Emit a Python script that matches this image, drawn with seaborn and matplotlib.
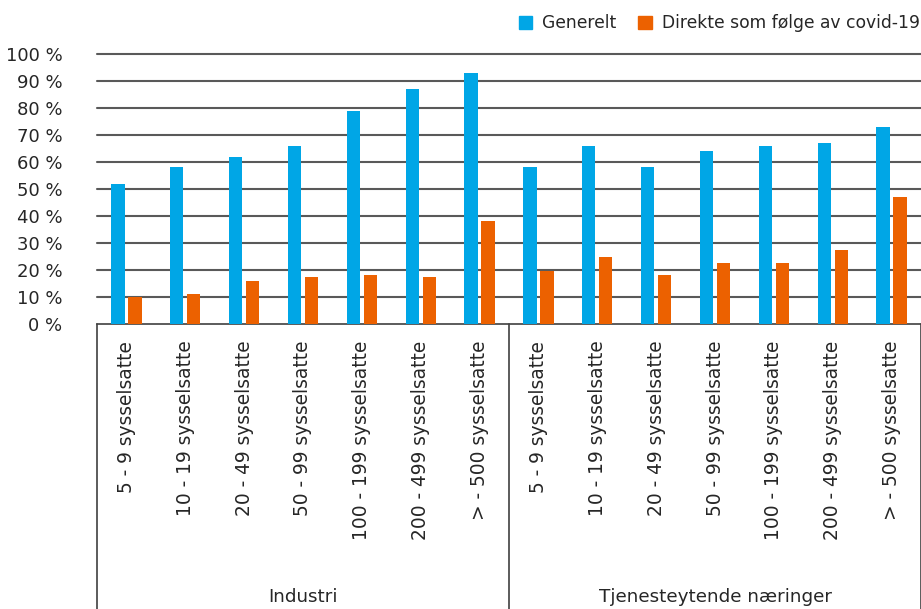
from matplotlib import pyplot as plt
import pandas as pd
import seaborn as sns

# data
groups = ["Industri", "Tjenesteytende næringer"]
sizes = ["5 - 9 sysselsatte", "10 - 19 sysselsatte", "20 - 49 sysselsatte",
         "50 - 99 sysselsatte", "100 - 199 sysselsatte", "200 - 499 sysselsatte",
         "> - 500 sysselsatte"]
series = ["Generelt", "Direkte som følge av covid-19"]
generelt = [52, 58, 62, 66, 79, 87, 93,
            58, 66, 58, 64, 66, 67, 73]
covid = [10, 11, 16, 17.5, 18, 17.5, 38,
         19.5, 25, 18, 22.5, 22.5, 27.5, 47]
yticks = [0, 10, 20, 30, 40, 50, 60, 70, 80, 90, 100]

colors = {"Generelt": "#00A6E6", "Direkte som følge av covid-19": "#EC6100"}

# long table, one unique key per category slot
keys = [g + "|" + s for g in groups for s in sizes]
rows = []
for k, g, c in zip(keys, generelt, covid):
    rows.append({"kat": k, "serie": series[0], "verdi": g})
    rows.append({"kat": k, "serie": series[1], "verdi": c})
df = pd.DataFrame(rows)

sns.set_style("white")
plt.rcParams["font.family"] = ["DejaVu Sans"]

fig = plt.figure(figsize=(9.21, 6.09), dpi=100)
ax = fig.add_axes([97 / 921, 1 - 324 / 609, 824 / 921, 270 / 609])

sns.barplot(data=df, x="kat", y="verdi", hue="serie", order=keys,
            hue_order=series, palette=colors, width=0.58, gap=0.22,
            linewidth=0, saturation=1, legend=False, ax=ax, zorder=3)

ax.set_ylim(0, 100)
ax.set_xlim(-0.5, len(keys) - 0.5)
ax.set_yticks(yticks)
ax.set_yticklabels([f"{t} %" for t in yticks], fontsize=13)
ax.tick_params(axis="y", length=0, pad=25)
for t in yticks[1:]:
    ax.axhline(t, color="#595959", lw=1.5, zorder=1, clip_on=False)

ax.set_xticks(range(len(keys)))
ax.set_xticklabels(sizes * 2, rotation=90, fontsize=13.4)
ax.tick_params(axis="x", length=0, pad=12)
ax.set_xlabel("")
ax.set_ylabel("")

for side in ["top", "right", "left"]:
    ax.spines[side].set_visible(False)
ax.spines["bottom"].set_color("#404040")
ax.spines["bottom"].set_linewidth(1.2)

# group separators and group labels below the axis
tr = ax.get_xaxis_transform()
for xs in [-0.5, 6.5, 13.5]:
    ax.plot([xs, xs], [0, -1.06], color="#404040", lw=1.2,
            transform=tr, clip_on=False)
ax.text(3, -1.011, groups[0], transform=tr, ha="center", va="center", fontsize=13.2)
ax.text(10, -1.011, groups[1], transform=tr, ha="center", va="center", fontsize=13.2)

# legend at the top right
handles = [plt.Rectangle((0, 0), 1, 1, color=colors[s]) for s in series]
fig.legend(handles, series, loc="upper right", bbox_to_anchor=(1.0152, 1.002),
           ncol=2, frameon=False, fontsize=12.3, handlelength=0.78,
           handleheight=0.78, handletextpad=0.58, columnspacing=1.3)

fig.savefig("out.png", dpi=100)
